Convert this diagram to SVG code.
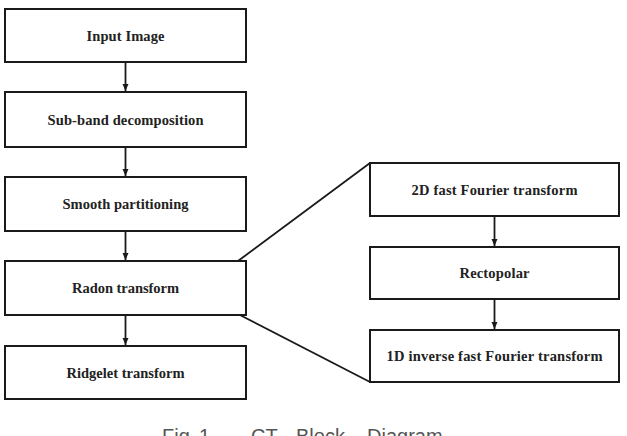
<svg xmlns="http://www.w3.org/2000/svg" width="627" height="436" viewBox="0 0 627 436">
<style>
.box{fill:#fff;stroke:#1a1a1a;stroke-width:2}
.lbl{font-family:"Liberation Serif","Times New Roman",serif;font-weight:bold;font-size:14.5px;fill:#222;text-anchor:middle}
.con{stroke:#1a1a1a;stroke-width:1.8;fill:none}
.cap{font-family:"Liberation Sans",Arial,sans-serif;font-size:20px;fill:#555}
</style>
<defs>
<marker id="ah" markerWidth="8" markerHeight="8" refX="7" refY="4" orient="auto" markerUnits="userSpaceOnUse">
<path d="M0,1 L7,4 L0,7 Z" fill="#1a1a1a"/>
</marker>
</defs>
<rect width="627" height="436" fill="#fff"/>
<g id="connectors">
<line class="con" x1="125.5" y1="62" x2="125.5" y2="91" marker-end="url(#ah)"/>
<line class="con" x1="125.5" y1="147" x2="125.5" y2="176" marker-end="url(#ah)"/>
<line class="con" x1="125.5" y1="231" x2="125.5" y2="260" marker-end="url(#ah)"/>
<line class="con" x1="125.5" y1="315" x2="125.5" y2="345" marker-end="url(#ah)"/>
<line class="con" x1="494.5" y1="216" x2="494.5" y2="246" marker-end="url(#ah)"/>
<line class="con" x1="494.5" y1="299" x2="494.5" y2="329" marker-end="url(#ah)"/>
<line class="con" x1="238" y1="261" x2="370" y2="163"/>
<line class="con" x1="238" y1="314" x2="370" y2="382"/>
</g>
<g id="n1"><rect class="box" x="5" y="9" width="241" height="53"/><text class="lbl" x="125.5" y="40.5" textLength="78" lengthAdjust="spacing">Input  Image</text></g>
<g id="n2"><rect class="box" x="5" y="92" width="241" height="55"/><text class="lbl" x="125.5" y="124.5" textLength="156" lengthAdjust="spacing">Sub-band  decomposition</text></g>
<g id="n3"><rect class="box" x="5" y="177" width="241" height="54"/><text class="lbl" x="125.5" y="208.5" textLength="126" lengthAdjust="spacing">Smooth partitioning</text></g>
<g id="n4"><rect class="box" x="5" y="261" width="241" height="54"/><text class="lbl" x="125.5" y="293" textLength="107" lengthAdjust="spacing">Radon transform</text></g>
<g id="n5"><rect class="box" x="5" y="346" width="241" height="53"/><text class="lbl" x="125.5" y="377.5" textLength="118" lengthAdjust="spacing">Ridgelet transform</text></g>
<g id="r1"><rect class="box" x="370" y="163" width="249" height="53"/><text class="lbl" x="494.5" y="194.5" textLength="166" lengthAdjust="spacing">2D fast Fourier  transform</text></g>
<g id="r2"><rect class="box" x="370" y="247" width="249" height="52"/><text class="lbl" x="494.5" y="278" textLength="70" lengthAdjust="spacing">Rectopolar</text></g>
<g id="r3"><rect class="box" x="370" y="330" width="249" height="52"/><text class="lbl" x="494.5" y="360.5" textLength="216" lengthAdjust="spacing">1D inverse fast Fourier  transform</text></g>
<text class="cap" y="443"><tspan x="162">Fig.</tspan><tspan x="199">1.</tspan><tspan x="251">CT</tspan><tspan x="296">Block</tspan><tspan x="367">Diagram</tspan></text>
</svg>
